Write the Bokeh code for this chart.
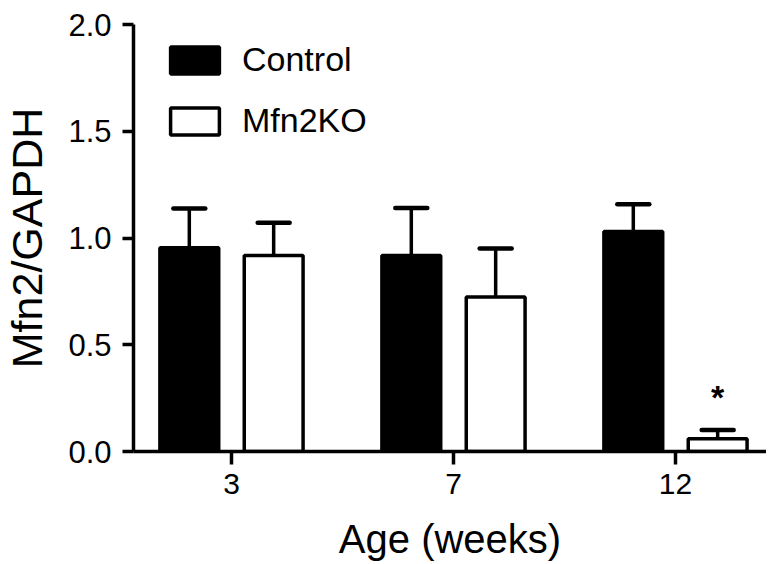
from bokeh.plotting import figure
from bokeh.models import (ColumnDataSource, Whisker, TeeHead, FixedTicker, Legend,
                          LegendItem, Range1d, NumeralTickFormatter)
from bokeh.embed import file_html
from bokeh.resources import INLINE
from bokeh.core.properties import value

# ---- data ----
ages = ["3", "7", "12"]
control_mean = [0.954, 0.918, 1.030]
control_sem = [0.184, 0.223, 0.128]
ko_mean = [0.918, 0.724, 0.060]
ko_sem = [0.154, 0.227, 0.041]
significance = ["", "", "*"]
y_ticks = [0.0, 0.5, 1.0, 1.5, 2.0]

FONT = "Liberation Sans"
OFF = 0.19
BAR_W = 0.265

pos = list(range(len(ages)))
ctrl_x = [p - OFF for p in pos]
ko_x = [p + OFF for p in pos]

ctrl_src = ColumnDataSource(dict(
    x=ctrl_x, top=control_mean,
    upper=[m + s for m, s in zip(control_mean, control_sem)]))
ko_src = ColumnDataSource(dict(
    x=ko_x, top=ko_mean,
    lower=[m - s for m, s in zip(ko_mean, ko_sem)],
    upper=[m + s for m, s in zip(ko_mean, ko_sem)]))
sig_src = ColumnDataSource(dict(
    x=ko_x, y=[m + s + 0.155 for m, s in zip(ko_mean, ko_sem)], text=significance))

p = figure(width=766, height=564, output_backend="svg", toolbar_location=None,
           x_range=Range1d(-0.4414, 2.41), y_range=Range1d(0, 2.0),
           min_border_left=133, min_border_right=0, min_border_top=24,
           min_border_bottom=113)
p.outline_line_color = None
p.xgrid.grid_line_color = None
p.ygrid.grid_line_color = None
p.background_fill_color = "white"

r_ctrl = p.vbar(x="x", top="top", width=BAR_W, bottom=0, source=ctrl_src,
                fill_color="black", line_color="black", line_width=3.5)
r_ko = p.vbar(x="x", top="top", width=BAR_W, bottom=0, source=ko_src,
              fill_color="white", line_color="black", line_width=3.5)

w1 = Whisker(base="x", lower="top", upper="upper", source=ctrl_src,
             line_width=3.5, line_color="black", lower_head=None,
             upper_head=TeeHead(size=32, line_width=4.5, line_color="black", line_cap="round"))
w2 = Whisker(base="x", lower="lower", upper="upper", source=ko_src,
             line_width=3.5, line_color="black",
             lower_head=TeeHead(size=32, line_width=4.5, line_color="black", line_cap="round"),
             upper_head=TeeHead(size=32, line_width=4.5, line_color="black", line_cap="round"))
p.add_layout(w1)
p.add_layout(w2)

p.text(x="x", y="y", text="text", source=sig_src, text_align="center",
       text_baseline="alphabetic", text_font=value(FONT), text_font_size="34px",
       text_font_style="bold", text_color="black")

# axes
p.xaxis.ticker = FixedTicker(ticks=pos)
p.xaxis.major_label_overrides = {i: a for i, a in enumerate(ages)}
p.yaxis.ticker = FixedTicker(ticks=y_ticks)
p.yaxis.formatter = NumeralTickFormatter(format="0.0")
for ax in (p.xaxis[0], p.yaxis[0]):
    ax.axis_line_width = 3.5
    ax.axis_line_color = "black"
    ax.major_tick_line_width = 3.5
    ax.major_tick_line_color = "black"
    ax.major_tick_in = 0
    ax.minor_tick_line_color = None
    ax.major_label_text_font = FONT
    ax.major_label_text_color = "black"
    ax.axis_label_text_font = FONT
    ax.axis_label_text_font_style = "normal"
    ax.axis_label_text_color = "black"
p.xaxis.major_tick_out = 13
p.yaxis.major_tick_out = 11
p.xaxis.major_label_text_font_size = "30px"
p.yaxis.major_label_text_font_size = "31px"
p.xaxis.major_label_standoff = 9
p.yaxis.major_label_standoff = 11
p.xaxis.axis_label = "Age (weeks)"
p.yaxis.axis_label = "Mfn2/GAPDH"
p.xaxis.axis_label_text_font_size = "40px"
p.yaxis.axis_label_text_font_size = "43px"
p.xaxis.axis_label_standoff = 20
p.yaxis.axis_label_standoff = 14

legend = Legend(items=[LegendItem(label="Control", renderers=[r_ctrl]),
                       LegendItem(label="Mfn2KO", renderers=[r_ko])],
                location=(31, 311), glyph_width=61, glyph_height=34,
                label_text_font=FONT, label_text_font_size="34px",
                label_text_color="black", label_standoff=17, spacing=22,
                padding=0, margin=0, border_line_color=None,
                background_fill_alpha=0)
p.add_layout(legend)

open("out.html", "w").write(file_html(p, INLINE))
